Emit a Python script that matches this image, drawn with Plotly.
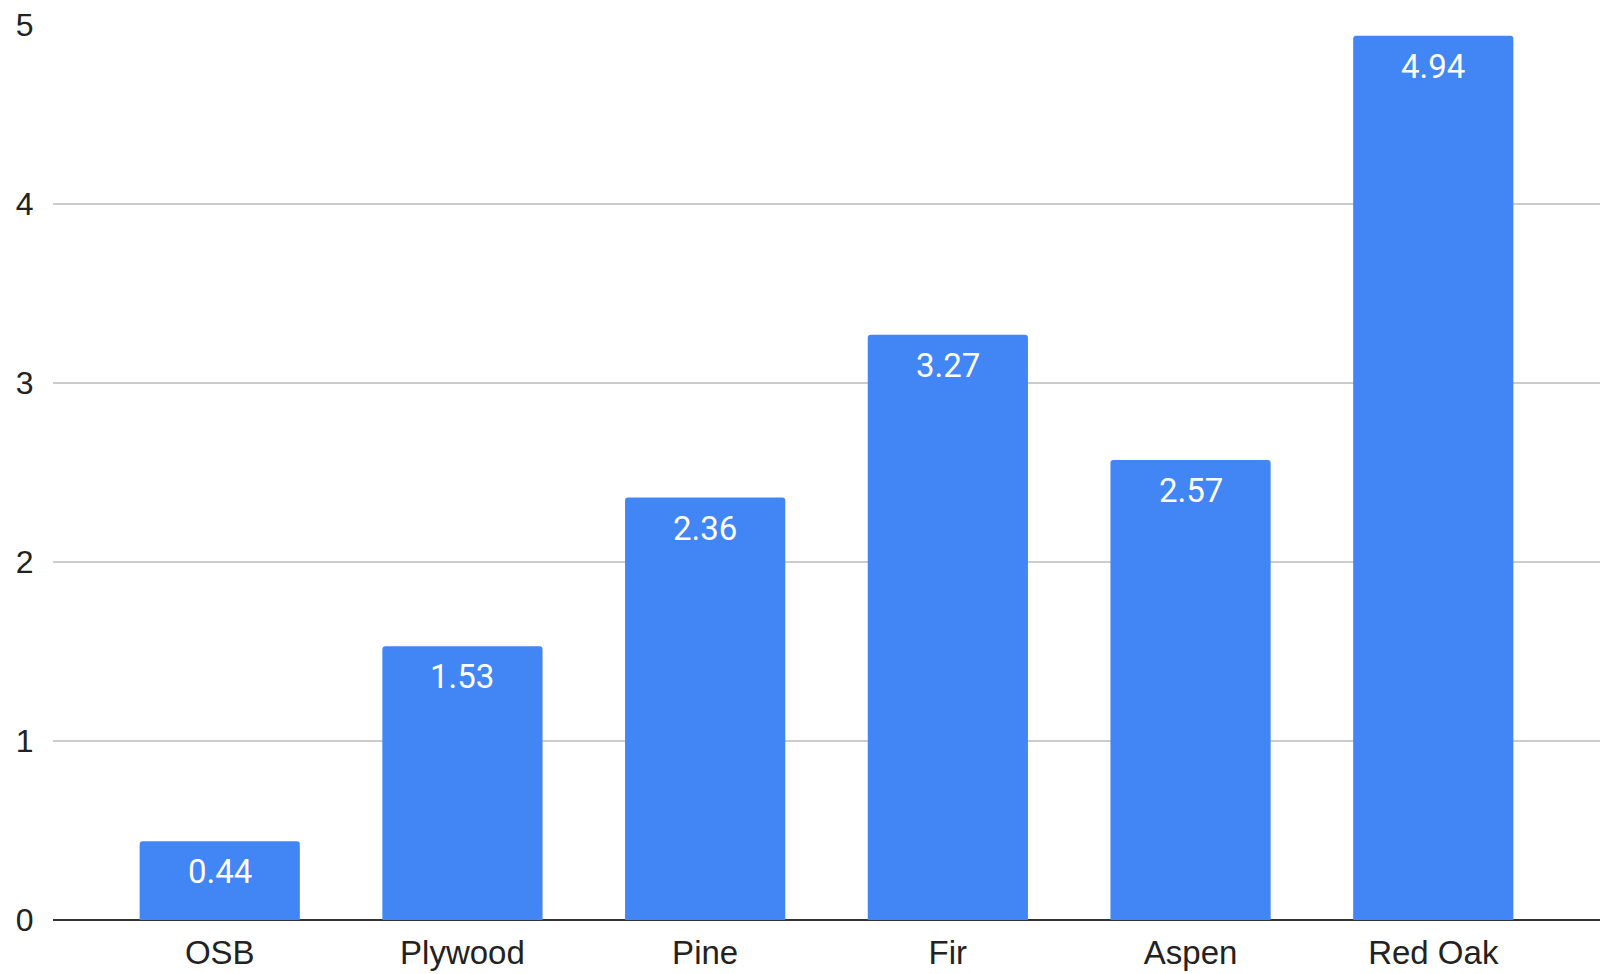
import plotly.graph_objects as go

materials = ["OSB", "Plywood", "Pine", "Fir", "Aspen", "Red Oak"]
values = [0.44, 1.53, 2.36, 3.27, 2.57, 4.94]
y_ticks = [0, 1, 2, 3, 4, 5]

fig = go.Figure(
    go.Bar(
        x=materials,
        y=values,
        width=0.66,
        marker=dict(color="#4285f4", line=dict(width=0), cornerradius=3),
        hoverinfo="x+y",
    )
)

# value labels sit inside each bar, just below its top edge
for name, v in zip(materials, values):
    fig.add_annotation(
        x=name,
        y=v,
        text=f"{v:.2f}",
        showarrow=False,
        yanchor="top",
        xanchor="center",
        yshift=-9,
        font=dict(family="Roboto, Arial, sans-serif", size=33, color="#ffffff"),
    )

fig.update_layout(
    width=1610,
    height=974,
    margin=dict(l=53, r=10, t=25, b=54),
    paper_bgcolor="#ffffff",
    plot_bgcolor="#ffffff",
    showlegend=False,
)

fig.update_xaxes(
    range=[-0.687, 5.687],
    automargin=False,
    showgrid=False,
    showline=False,
    ticks="outside",
    ticklen=3,
    tickcolor="rgba(0,0,0,0)",
    tickfont=dict(family="Liberation Sans, Arial, sans-serif", size=33, color="#222222"),
)

fig.update_yaxes(
    range=[0, 5],
    automargin=False,
    tickvals=y_ticks,
    showgrid=True,
    gridcolor="#cccccc",
    gridwidth=1.5,
    zeroline=True,
    zerolinecolor="#333333",
    zerolinewidth=2,
    showline=False,
    ticks="outside",
    ticklen=12,
    tickcolor="rgba(0,0,0,0)",
    tickfont=dict(family="Liberation Sans, Arial, sans-serif", size=32, color="#222222"),
)

fig.write_html("out.html")
